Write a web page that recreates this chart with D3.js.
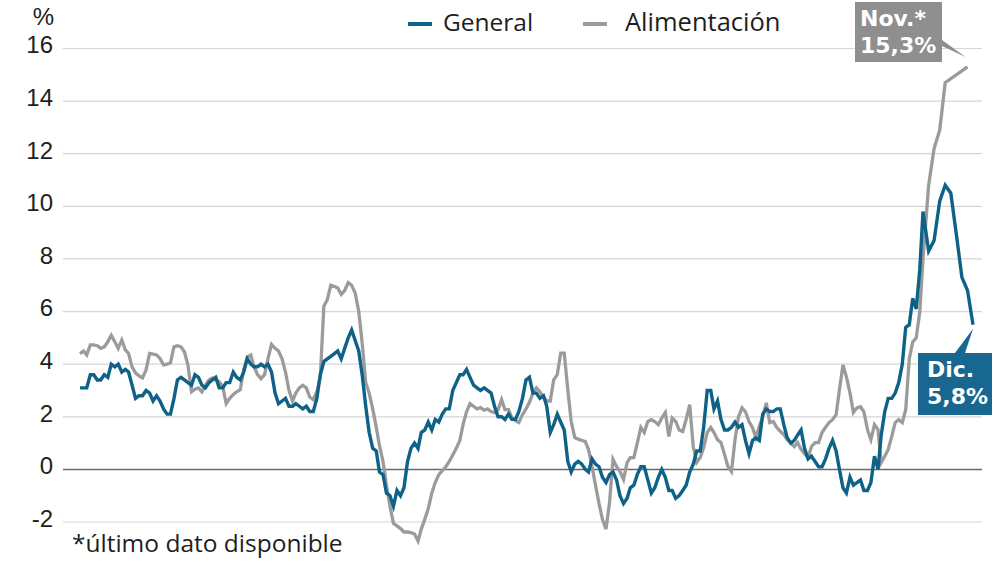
<!DOCTYPE html>
<html><head><meta charset="utf-8">
<script src="https://cdn.jsdelivr.net/npm/d3@7"></script>
<style>
html,body{margin:0;padding:0;background:#fff;}
svg{display:block;font-family:"Open Sans","Liberation Sans",sans-serif;}
</style></head>
<body><svg id="chart" width="1000" height="567"></svg>
<script>
// ---- data ----
const startMonth = "2002-01";
const seriesNames = ["General", "Alimentación"];
const yTicks = [-2, 0, 2, 4, 6, 8, 10, 12, 14, 16];
const generalValues = [
  3.1,3.1,3.1,3.6,3.6,3.4,3.4,3.6,3.5,4.0,3.9,4.0,
  3.7,3.8,3.7,3.2,2.7,2.8,2.8,3.0,2.9,2.6,2.8,2.6,
  2.3,2.1,2.1,2.7,3.4,3.5,3.4,3.3,3.2,3.6,3.5,3.2,
  3.1,3.3,3.4,3.5,3.1,3.1,3.3,3.3,3.7,3.5,3.4,3.7,
  4.2,4.0,3.9,3.9,4.0,3.9,4.0,3.7,2.9,2.5,2.6,2.7,
  2.4,2.4,2.5,2.4,2.3,2.4,2.2,2.2,2.7,3.6,4.1,4.2,
  4.3,4.4,4.5,4.2,4.6,5.0,5.3,4.9,4.5,3.6,2.4,1.4,
  0.8,0.7,-0.1,-0.2,-0.9,-1.0,-1.4,-0.8,-1.0,-0.7,0.3,0.8,
  1.0,0.8,1.4,1.5,1.8,1.5,1.9,1.8,2.1,2.3,2.3,3.0,
  3.3,3.6,3.6,3.8,3.5,3.2,3.1,3.0,3.1,3.0,2.9,2.4,
  2.0,2.0,1.9,2.1,1.9,1.9,2.2,2.7,3.4,3.5,2.9,2.9,
  2.7,2.8,2.4,1.4,1.7,2.1,1.8,1.5,0.3,-0.1,0.2,0.3,
  0.2,0.0,-0.1,0.4,0.2,0.1,-0.3,-0.5,-0.2,-0.1,-0.4,-1.0,
  -1.3,-1.1,-0.7,-0.6,-0.2,0.1,0.1,-0.4,-0.9,-0.7,-0.3,0.0,
  -0.3,-0.8,-0.8,-1.1,-1.0,-0.8,-0.6,-0.1,0.2,0.7,0.7,1.6,
  3.0,3.0,2.3,2.6,1.9,1.5,1.5,1.6,1.8,1.6,1.7,1.1,
  0.6,1.1,1.2,1.1,2.1,2.3,2.2,2.2,2.3,2.3,1.7,1.2,
  1.0,1.1,1.3,1.5,0.8,0.4,0.5,0.3,0.1,0.1,0.4,0.8,
  1.1,0.7,0.0,-0.7,-0.9,-0.3,-0.6,-0.5,-0.4,-0.8,-0.8,-0.5,
  0.5,0.0,1.3,2.2,2.7,2.7,2.9,3.3,4.0,5.4,5.5,6.5,
  6.1,7.6,9.8,8.3,8.7,10.2,10.8,10.5,8.9,7.3,6.8,5.5
];
const foodValues = [
  4.4,4.5,4.35,4.73,4.73,4.7,4.6,4.66,4.85,5.1,4.85,4.6,
  4.92,4.54,4.41,3.9,3.67,3.55,3.48,3.78,4.41,4.38,4.35,4.22,
  3.97,4.0,4.05,4.66,4.7,4.66,4.47,3.97,2.95,3.05,3.1,2.95,
  3.2,3.4,3.48,3.4,3.33,3.14,2.5,2.7,2.85,2.95,3.03,3.78,
  4.27,4.35,3.9,3.6,3.45,3.6,4.2,4.75,4.6,4.5,4.2,3.7,
  3.0,2.6,2.9,3.1,3.2,3.1,2.75,2.65,2.95,3.5,6.2,6.45,
  7.0,6.95,6.9,6.65,6.8,7.1,7.0,6.7,6.0,4.8,3.3,2.9,
  2.3,1.6,0.9,0.3,-0.6,-1.4,-2.05,-2.15,-2.25,-2.38,-2.38,-2.4,
  -2.46,-2.72,-2.27,-1.89,-1.5,-0.9,-0.5,-0.2,-0.05,0.1,0.3,0.55,
  0.8,1.1,1.7,2.2,2.5,2.4,2.3,2.35,2.25,2.3,2.2,2.16,
  2.27,2.65,2.27,2.27,1.97,1.85,1.78,2.08,2.3,2.55,2.9,3.1,
  2.95,2.75,2.6,2.6,3.4,3.6,4.42,4.42,3.03,1.82,1.21,1.15,
  1.1,1.06,0.76,0.11,-0.6,-1.3,-1.9,-2.27,-1.25,0.38,0.11,-0.08,
  -0.38,0.26,0.45,0.45,1.0,1.6,1.4,1.82,1.89,1.82,1.7,1.95,
  2.16,1.25,1.95,1.82,1.5,1.44,1.9,2.46,0.87,0.26,0.45,0.83,
  1.4,1.59,1.4,1.13,1.02,0.57,0.11,-0.08,1.13,2.0,2.34,2.19,
  1.82,1.59,1.21,1.63,2.0,2.53,1.78,1.82,1.59,1.45,1.32,1.13,
  1.0,0.87,1.02,0.76,0.6,0.45,0.87,1.02,1.02,1.4,1.6,1.78,
  1.89,2.08,3.03,3.97,3.52,2.91,2.16,2.34,2.38,2.19,1.51,1.13,
  1.7,1.51,0.26,0.5,0.76,1.25,1.78,1.89,1.78,2.27,4.2,4.84,
  5.0,6.0,8.0,10.8,12.2,12.9,14.7,null,null,null,15.3
];
const annotationTexts = [["Nov.*", "15,3%"], ["Dic.", "5,8%"]];
const footnote = "*último dato disponible";
const unitLabel = "%";

// ---- setup ----
const teal = "#0f6287", gray = "#9b9b9b", grayBox = "#8f8f8f", tealBox = "#186790";
const txtCol = "#1e1e1e";
const svg = d3.select("#chart");
const parse = d3.timeParse("%Y-%m");
const t0 = parse(startMonth);
const dateAt = i => d3.timeMonth.offset(t0, i);

const x = d3.scaleTime()
  .domain([t0, parse("2022-03"), parse("2022-12")])
  .range([80, 923, 973]);
const y = d3.scaleLinear().domain([-2, 16]).range([522, 48.5]);

const gen = generalValues.map((v, i) => ({date: dateAt(i), v}));
const food = foodValues.map((v, i) => ({date: dateAt(i), v})).filter(d => d.v !== null);

// grid + y axis
const yAxis = d3.axisLeft(y).tickValues(yTicks).tickSize(0).tickPadding(0)
  .tickFormat(d => String(d));
const ga = svg.append("g").attr("transform", "translate(53,0)").call(yAxis);
ga.select(".domain").remove();
ga.selectAll("text").attr("font-size", 24).attr("fill", txtCol)
  .attr("font-family", "Liberation Sans, Arial, sans-serif").attr("dy", "0.18em").attr("text-anchor", "end");

svg.append("g").selectAll("line").data(yTicks).join("line")
  .attr("x1", 63).attr("x2", 982)
  .attr("y1", d => y(d)).attr("y2", d => y(d))
  .attr("stroke", d => d === 0 ? "#6a6a6a" : "#d6d6d6")
  .attr("stroke-width", d => d === 0 ? 1.5 : 1.2);

svg.append("text").attr("x", 54).attr("y", 25).attr("text-anchor", "end")
  .attr("font-family", "Liberation Sans, Arial, sans-serif")
  .attr("font-size", 24).attr("fill", txtCol).text(unitLabel);

// lines
const line = d3.line().x(d => x(d.date)).y(d => y(d.v));
svg.append("path").datum(food).attr("d", line).attr("fill", "none")
  .attr("stroke", gray).attr("stroke-width", 3.3);
svg.append("path").datum(gen).attr("d", line).attr("fill", "none")
  .attr("stroke", teal).attr("stroke-width", 3.4);

// legend
const leg = svg.append("g");
const legX = [408, 583];
const legCol = [teal, gray];
seriesNames.forEach((n, i) => {
  leg.append("line").attr("x1", legX[i]).attr("x2", legX[i] + 24)
    .attr("y1", 24).attr("y2", 24).attr("stroke", legCol[i]).attr("stroke-width", 4);
  leg.append("text").attr("x", legX[i] + (i === 0 ? 35 : 42)).attr("y", 31)
    .attr("font-size", i === 0 ? 24.5 : 25.5).attr("fill", txtCol).text(n);
});

// annotations
const lastFood = food[food.length - 1];
const lastGen = gen[gen.length - 1];
const ann = [
  {box: [855, 2, 87, 60], col: grayBox, tx: 5, lead: [[942, 40], [942, 46], [x(lastFood.date) - 2, y(lastFood.v) - 10]], txt: annotationTexts[0]},
  {box: [918, 353, 74, 62], col: tealBox, tx: 9, lead: [[955, 353], [965, 353], [x(lastGen.date), y(lastGen.v) + 4]], txt: annotationTexts[1]}
];
ann.forEach(a => {
  svg.append("polygon").attr("points", a.lead.map(p => p.join(",")).join(" ")).attr("fill", a.col);
  svg.append("rect").attr("x", a.box[0]).attr("y", a.box[1]).attr("width", a.box[2]).attr("height", a.box[3]).attr("fill", a.col);
  a.txt.forEach((s, j) => {
    svg.append("text").attr("x", a.box[0] + a.tx).attr("y", a.box[1] + 24 + j * 27)
      .attr("font-family", "DejaVu Sans, sans-serif")
      .attr("font-size", 22).attr("font-weight", "bold").attr("fill", "#fff").text(s);
  });
});

// footnote
svg.append("text").attr("x", 72).attr("y", 552).attr("font-size", 24.5).attr("fill", txtCol).text(footnote);
</script></body></html>
